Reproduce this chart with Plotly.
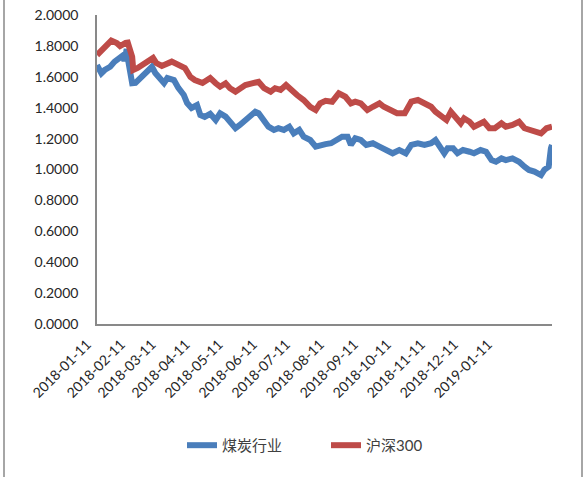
import plotly.graph_objects as go

# 煤炭行业 (coal sector) relative index
coal_dates = ["2018-01-11","2018-01-15","2018-01-18","2018-01-23","2018-01-27","2018-02-01","2018-02-04","2018-02-05",
              "2018-02-07","2018-02-08","2018-02-12","2018-02-15","2018-02-21","2018-02-27","2018-03-02","2018-03-05",
              "2018-03-10","2018-03-13","2018-03-16","2018-03-22","2018-03-26","2018-03-31","2018-04-03","2018-04-07",
              "2018-04-12","2018-04-15","2018-04-19","2018-04-24","2018-04-29","2018-05-03","2018-05-08","2018-05-12",
              "2018-05-17","2018-05-21","2018-05-26","2018-05-31","2018-06-04","2018-06-07","2018-06-12","2018-06-16",
              "2018-06-21","2018-06-25","2018-06-30","2018-07-05","2018-07-09","2018-07-14","2018-07-18","2018-07-24",
              "2018-07-29","2018-08-02","2018-08-07","2018-08-12","2018-08-16","2018-08-22","2018-08-27","2018-08-30",
              "2018-09-03","2018-09-08","2018-09-13","2018-09-19","2018-09-25","2018-10-01","2018-10-07","2018-10-13",
              "2018-10-19","2018-10-24","2018-10-30","2018-11-05","2018-11-11","2018-11-15","2018-11-20","2018-11-23",
              "2018-11-26","2018-12-01","2018-12-05","2018-12-10","2018-12-16","2018-12-20","2018-12-26","2018-12-31",
              "2019-01-05","2019-01-09","2019-01-14","2019-01-18","2019-01-24","2019-01-30","2019-02-04","2019-02-08",
              "2019-02-13","2019-02-19","2019-02-22","2019-02-25","2019-02-26","2019-02-28","2019-03-01"]
coal_values = [1.676,1.623,1.644,1.665,1.698,1.722,1.741,1.700,
               1.780,1.720,1.558,1.560,1.601,1.633,1.665,1.625,
               1.579,1.560,1.592,1.579,1.528,1.482,1.430,1.398,
               1.417,1.353,1.340,1.360,1.320,1.364,1.342,1.309,
               1.267,1.288,1.320,1.342,1.374,1.364,1.309,1.277,
               1.256,1.267,1.256,1.277,1.234,1.256,1.212,1.191,
               1.148,1.159,1.164,1.170,1.191,1.212,1.212,1.159,
               1.202,1.191,1.159,1.170,1.148,1.126,1.105,1.126,
               1.105,1.159,1.170,1.159,1.170,1.191,1.130,1.105,
               1.137,1.137,1.105,1.126,1.115,1.105,1.126,1.115,
               1.061,1.050,1.072,1.061,1.072,1.050,1.018,0.997,
               0.986,0.964,0.997,1.008,1.018,1.137,1.159]

# 沪深300 relative index
hs_dates = ["2018-01-11","2018-01-18","2018-01-24","2018-01-29","2018-02-01","2018-02-06","2018-02-08","2018-02-12",
            "2018-02-13","2018-02-17","2018-02-24","2018-03-03","2018-03-06","2018-03-11","2018-03-20","2018-03-28",
            "2018-04-01","2018-04-06","2018-04-10","2018-04-17","2018-04-24","2018-04-29","2018-05-03","2018-05-08",
            "2018-05-12","2018-05-17","2018-05-21","2018-05-26","2018-06-01","2018-06-07","2018-06-12","2018-06-18",
            "2018-06-22","2018-06-27","2018-07-02","2018-07-08","2018-07-12","2018-07-18","2018-07-24","2018-07-29",
            "2018-08-02","2018-08-07","2018-08-13","2018-08-19","2018-08-25","2018-08-30","2018-09-03","2018-09-08",
            "2018-09-14","2018-09-19","2018-09-25","2018-09-29","2018-10-05","2018-10-11","2018-10-18","2018-10-24",
            "2018-10-30","2018-11-05","2018-11-11","2018-11-15","2018-11-22","2018-11-25","2018-11-29","2018-12-04",
            "2018-12-08","2018-12-11","2018-12-16","2018-12-20","2018-12-25","2018-12-29","2019-01-03","2019-01-08",
            "2019-01-14","2019-01-18","2019-01-24","2019-01-30","2019-02-04","2019-02-10","2019-02-16","2019-02-19",
            "2019-02-24","2019-03-01"]
hs_values = [1.741,1.786,1.834,1.819,1.799,1.819,1.821,1.730,
             1.644,1.657,1.689,1.722,1.689,1.670,1.698,1.665,
             1.657,1.599,1.579,1.560,1.592,1.558,1.536,1.558,
             1.526,1.504,1.526,1.547,1.558,1.568,1.526,1.504,
             1.526,1.515,1.547,1.504,1.482,1.450,1.406,1.385,
             1.428,1.445,1.439,1.493,1.471,1.428,1.439,1.428,
             1.385,1.406,1.428,1.406,1.385,1.364,1.364,1.439,
             1.450,1.428,1.406,1.374,1.331,1.320,1.374,1.331,
             1.299,1.331,1.309,1.277,1.299,1.309,1.267,1.267,
             1.299,1.277,1.288,1.309,1.267,1.256,1.245,1.234,
             1.267,1.277]

tick_dates = ["2018-01-11","2018-02-11","2018-03-11","2018-04-11","2018-05-11","2018-06-11","2018-07-11",
              "2018-08-11","2018-09-11","2018-10-11","2018-11-11","2018-12-11","2019-01-11"]
y_ticks = [0.0, 0.2, 0.4, 0.6, 0.8, 1.0, 1.2, 1.4, 1.6, 1.8, 2.0]

FONT = "Lato, 'Noto Sans CJK SC', sans-serif"

fig = go.Figure()
fig.add_trace(go.Scatter(x=coal_dates, y=coal_values, mode="lines", name="煤炭行业",
                         line=dict(color="#4A7EBB", width=6)))
fig.add_trace(go.Scatter(x=hs_dates, y=hs_values, mode="lines", name="沪深300",
                         line=dict(color="#BE4B48", width=6)))

fig.update_layout(
    width=588, height=477,
    margin=dict(l=97, r=36, t=15, b=153),
    paper_bgcolor="white", plot_bgcolor="white",
    font=dict(family=FONT, size=14, color="#262626"),
    showlegend=True,
    legend=dict(orientation="h", x=(182 - 97) / 455, xanchor="left", y=-0.393, yanchor="middle",
                entrywidth=99, entrywidthmode="pixels",
                font=dict(family=FONT, size=15, color="#404040")),
    xaxis=dict(type="date", range=["2018-01-11", "2019-03-01"], automargin=False,
               tickvals=tick_dates, ticktext=tick_dates, tickangle=-45,
               ticklabelshift=-10, ticklabelstandoff=5,
               showgrid=False, zeroline=False, showline=True, linecolor="#898989", linewidth=1.5,
               ticks="", tickfont=dict(size=14, color="#262626")),
    yaxis=dict(range=[0, 2], tickvals=y_ticks, tickformat=".4f", automargin=False,
               showgrid=False, zeroline=False, showline=True, linecolor="#898989", linewidth=1.5,
               ticks="", ticklabelstandoff=14, tickfont=dict(size=14, color="#262626")),
)

# outer chart border (left and right edges visible)
fig.add_shape(type="line", xref="paper", yref="paper", x0=-93/455, x1=-93/455, y0=-1.2, y1=1.2,
              line=dict(color="#898989", width=1.5))
fig.add_shape(type="line", xref="paper", yref="paper", x0=485/455, x1=485/455, y0=-1.2, y1=1.2,
              line=dict(color="#898989", width=1.5))

fig.write_html("out.html", config={"displayModeBar": False},
               post_script="document.body.style.margin='0';document.body.style.overflow='hidden';")
